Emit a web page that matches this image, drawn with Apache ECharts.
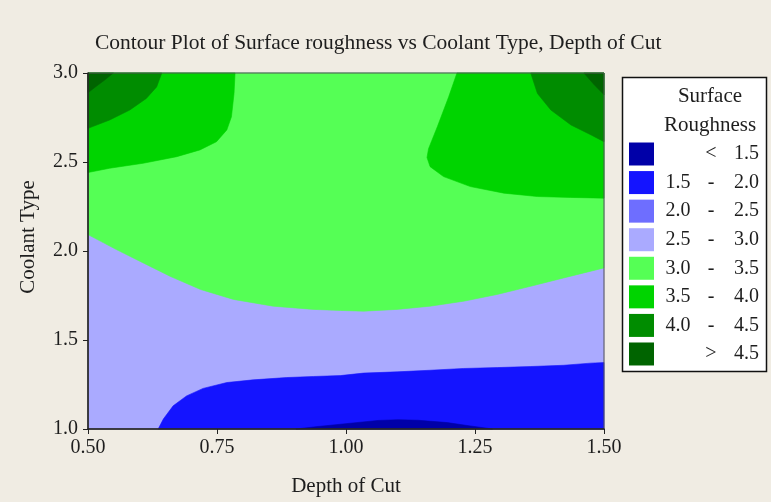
<!DOCTYPE html>
<html>
<head>
<meta charset="utf-8">
<title>Contour Plot of Surface roughness</title>
<script src="https://cdn.jsdelivr.net/npm/echarts@6/dist/echarts.min.js"></script>
<style>
  html, body { margin: 0; padding: 0; background: #f0ece3; }
  #chart { width: 771px; height: 502px; }
</style>
</head>
<body>
<div id="chart"></div>
<script>
// Axis ticks
const depthTicks = [0.50, 0.75, 1.00, 1.25, 1.50];
const coolantTicks = [1.0, 1.5, 2.0, 2.5, 3.0];

// Contour bands (legend order, low to high)
const bandNames = ['< 1.5', '1.5 - 2.0', '2.0 - 2.5', '2.5 - 3.0', '3.0 - 3.5', '3.5 - 4.0', '4.0 - 4.5', '> 4.5'];
const bandColors = ['#0000a8', '#1414ff', '#6e6eff', '#aaaaff', '#55ff55', '#00d400', '#008c00', '#006400'];

// Band regions as [Depth of Cut, Coolant Type] outlines
const regionBelow15 = [
  [0.903, 1.000], [0.946, 1.014], [1.004, 1.031], [1.062, 1.048], [1.101, 1.052],
  [1.140, 1.049], [1.196, 1.036], [1.241, 1.017], [1.284, 1.000]
];
const region15to20 = [
  [0.636, 1.000], [0.646, 1.056], [0.665, 1.130], [0.691, 1.186], [0.723, 1.228],
  [0.769, 1.261], [0.820, 1.276], [0.885, 1.289], [0.937, 1.295], [0.989, 1.300],
  [1.034, 1.314], [1.099, 1.321], [1.163, 1.330], [1.228, 1.340], [1.293, 1.345],
  [1.358, 1.351], [1.422, 1.358], [1.474, 1.370], [1.500, 1.373], [1.500, 1.000]
];
const region30to35 = [
  [0.500, 3.000], [0.500, 2.092], [0.555, 2.008], [0.607, 1.933], [0.659, 1.858],
  [0.718, 1.784], [0.782, 1.728], [0.859, 1.690], [0.937, 1.672], [0.989, 1.666],
  [1.034, 1.662], [1.099, 1.672], [1.163, 1.690], [1.228, 1.718], [1.293, 1.756],
  [1.358, 1.802], [1.422, 1.849], [1.500, 1.905], [1.500, 3.000]
];
const region35to40Left = [
  [0.500, 3.000], [0.785, 3.000], [0.783, 2.885], [0.778, 2.754], [0.769, 2.680],
  [0.749, 2.614], [0.717, 2.568], [0.672, 2.530], [0.607, 2.493], [0.542, 2.465],
  [0.500, 2.441]
];
const region35to40Right = [
  [1.215, 3.000], [1.199, 2.866], [1.177, 2.698], [1.160, 2.575], [1.157, 2.525],
  [1.163, 2.474], [1.189, 2.418], [1.241, 2.362], [1.306, 2.325], [1.371, 2.306],
  [1.435, 2.301], [1.500, 2.297], [1.500, 3.000]
];
const region40to45Left = [
  [0.500, 3.000], [0.643, 3.000], [0.633, 2.922], [0.613, 2.857], [0.581, 2.792],
  [0.542, 2.736], [0.500, 2.689]
];
const region40to45Right = [
  [1.358, 3.000], [1.371, 2.885], [1.397, 2.792], [1.436, 2.708], [1.475, 2.652],
  [1.500, 2.614], [1.500, 3.000]
];
const regionAbove45Left = [
  [0.500, 3.000], [0.549, 3.000], [0.533, 2.962], [0.515, 2.923], [0.500, 2.889]
];
const regionAbove45Right = [
  [1.461, 3.000], [1.481, 2.934], [1.500, 2.878], [1.500, 3.000]
];

const xMin = depthTicks[0], xMax = depthTicks[depthTicks.length - 1];
const yMin = coolantTicks[0], yMax = coolantTicks[coolantTicks.length - 1];
const fullPlot = [[xMin, yMin], [xMax, yMin], [xMax, yMax], [xMin, yMax]];

// Painting order: widest band first, nested bands on top
const layers = [
  { band: 3, polys: [fullPlot] },
  { band: 4, polys: [region30to35] },
  { band: 5, polys: [region35to40Left, region35to40Right] },
  { band: 6, polys: [region40to45Left, region40to45Right] },
  { band: 7, polys: [regionAbove45Left, regionAbove45Right] },
  { band: 1, polys: [region15to20] },
  { band: 0, polys: [regionBelow15] },
  { band: 2, polys: [] }
];

const FONT = '"Liberation Serif", "Times New Roman", serif';
const TXT = '#1e1e1e';

function bandSeries(layer, k) {
  const color = bandColors[layer.band];
  const polys = layer.polys;
  return {
    type: 'custom',
    name: bandNames[layer.band],
    coordinateSystem: 'cartesian2d',
    silent: true,
    z: 2 + k,
    itemStyle: { color: color },
    encode: { x: 0, y: 1 },
    data: polys.map(function (p, i) { return [p[0][0], p[0][1], i]; }),
    renderItem: function (params, api) {
      const poly = polys[params.dataIndex];
      return {
        type: 'polygon',
        shape: { points: poly.map(function (pt) { return api.coord(pt); }) },
        style: { fill: color, stroke: color, lineWidth: 0.6 }
      };
    }
  };
}

function legendText(name) {
  if (name.charAt(0) === '<' || name.charAt(0) === '>') {
    const parts = name.split(' ');
    return '{lo| }{mid|' + parts[0] + '}{hi|' + parts[1] + '}';
  }
  const parts = name.split(' - ');
  return '{lo|' + parts[0] + '}{mid|-}{hi|' + parts[1] + '}';
}

const chart = echarts.init(document.getElementById('chart'), null, { renderer: 'canvas' });

chart.setOption({
  backgroundColor: '#f0ece3',
  animation: false,
  title: {
    text: 'Contour Plot of Surface roughness vs Coolant Type, Depth of Cut',
    left: 90,
    top: 27,
    textStyle: { fontFamily: FONT, fontSize: 21.5, fontWeight: 'normal', color: TXT }
  },
  grid: {
    left: 88, top: 73, right: 167, bottom: 72,
    show: true, borderColor: '#555', borderWidth: 1, backgroundColor: 'transparent', z: 20
  },
  xAxis: {
    type: 'value',
    min: xMin, max: xMax, interval: 0.25,
    name: 'Depth of Cut', nameLocation: 'middle', nameGap: 47,
    nameTextStyle: { fontFamily: FONT, fontSize: 21, color: TXT },
    axisLine: { show: true, onZero: false, lineStyle: { color: '#222', width: 1.5 } },
    axisTick: { show: true, inside: false, length: 5, lineStyle: { color: '#222' } },
    splitLine: { show: false },
    axisLabel: {
      fontFamily: FONT, fontSize: 20, color: TXT, margin: 9,
      formatter: function (v) { return v.toFixed(2); }
    },
    z: 30
  },
  yAxis: {
    type: 'value',
    min: yMin, max: yMax, interval: 0.5,
    axisLine: { show: true, onZero: false, lineStyle: { color: '#222', width: 1.5 } },
    axisTick: { show: true, inside: false, length: 5, lineStyle: { color: '#222' } },
    splitLine: { show: false },
    axisLabel: {
      fontFamily: FONT, fontSize: 20, color: TXT, margin: 10,
      formatter: function (v) { return v.toFixed(1); }
    },
    z: 30
  },
  legend: {
    orient: 'vertical',
    left: 629, top: 142.5, padding: 0,
    itemWidth: 25, itemHeight: 23, itemGap: 5.57,
    icon: 'rect',
    selectedMode: false,
    data: bandNames,
    formatter: legendText,
    textStyle: {
      fontFamily: FONT, fontSize: 20, color: TXT,
      rich: {
        lo: { fontFamily: FONT, fontSize: 20, color: TXT, width: 38, align: 'right' },
        mid: { fontFamily: FONT, fontSize: 20, color: TXT, width: 28, align: 'center' },
        hi: { fontFamily: FONT, fontSize: 20, color: TXT, width: 34, align: 'right' }
      }
    }
  },
  graphic: [
    {
      type: 'rect', z: -1,
      shape: { x: 622.5, y: 77.5, width: 144, height: 294 },
      style: { fill: '#ffffff', stroke: '#111', lineWidth: 1.5 }
    },
    {
      type: 'text',
      x: 710, y: 96,
      style: { text: 'Surface', font: '21px ' + FONT, fill: TXT, align: 'center', verticalAlign: 'middle' }
    },
    {
      type: 'text',
      x: 710, y: 125,
      style: { text: 'Roughness', font: '21px ' + FONT, fill: TXT, align: 'center', verticalAlign: 'middle' }
    },
    {
      type: 'text',
      x: 28, y: 237, rotation: Math.PI / 2,
      style: { text: 'Coolant Type', font: '21px ' + FONT, fill: TXT, align: 'center', verticalAlign: 'middle' }
    }
  ],
  series: layers.map(bandSeries)
});
</script>
</body>
</html>
